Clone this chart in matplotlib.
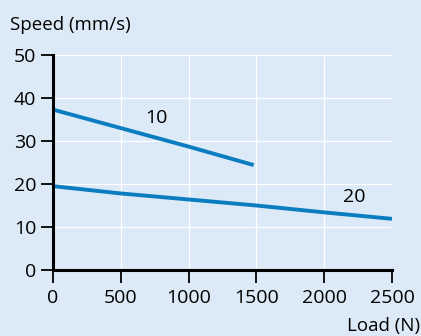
import numpy as np
import matplotlib.pyplot as plt

plt.rcParams['font.family'] = ['Open Sans', 'DejaVu Sans']

# data
load_10 = [0, 500, 1000, 1480]
speed_10 = [37.3, 33.0, 28.7, 24.4]
load_20 = [0, 500, 1000, 1500, 2000, 2500]
speed_20 = [19.5, 17.8, 16.4, 15.0, 13.4, 11.9]
x_ticks = [0, 500, 1000, 1500, 2000, 2500]
y_ticks = [0, 10, 20, 30, 40, 50]

bg = '#dce9f6'
blue = '#0a7dc0'

fig = plt.figure(figsize=(4.21, 3.36), dpi=100, facecolor=bg)
ax = fig.add_axes([53/421, 66/336, 339/421, 215/336], facecolor=bg)

ax.plot(load_10, speed_10, color=blue, lw=2.8, solid_capstyle='butt')
ax.plot(load_20, speed_20, color=blue, lw=2.8, solid_capstyle='butt')
ax.text(760, 35.3, '10', fontsize=14, ha='center', va='center')
ax.text(2220, 17, '20', fontsize=14, ha='center', va='center')

ax.set_xlim(0, 2500)
ax.set_ylim(0, 50)
ax.set_xticks(x_ticks)
ax.set_yticks(y_ticks)
ax.grid(True, color='white', lw=0.9)
ax.set_axisbelow(True)
for s in ['top', 'right']:
    ax.spines[s].set_visible(False)
for s in ['left', 'bottom']:
    ax.spines[s].set_linewidth(2.2)
ax.tick_params(axis='both', length=9, width=1.3, labelsize=14, direction='out')
ax.tick_params(axis='x', pad=5)
ax.tick_params(axis='y', pad=3)

fig.text(10/421, 1 - 25/336, 'Speed (mm/s)', fontsize=13.5, ha='left', va='center')
fig.text(420/421, 1 - 326/336, 'Load (N)', fontsize=13.5, ha='right', va='center')

fig.savefig('out.png', dpi=100, facecolor=bg)
